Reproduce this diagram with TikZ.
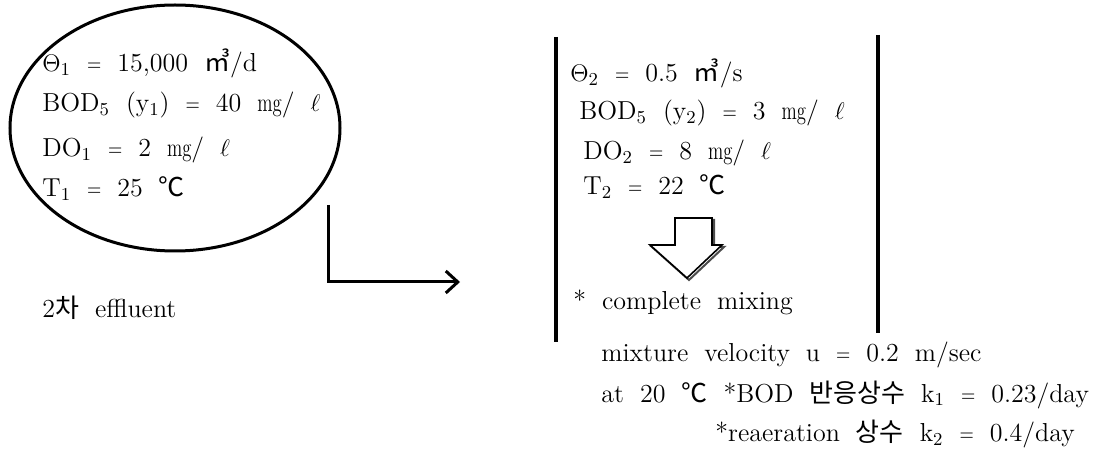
\documentclass[tikz,border=0pt]{standalone}
\usepackage{fontspec}
\usepackage{amsmath,amssymb}
\usepackage{graphicx}
\usepackage{tikz}
\usetikzlibrary{arrows.meta,positioning}
\newfontfamily\cjk{Noto Sans CJK KR}
\newcommand{\degc}{{\cjk ℃}}
\newcommand{\cubm}{{\cjk ㎥}}
\newcommand{\mgl}{\scalebox{0.72}[1]{mg}/ $\ell$}
\newcommand{\eq}{\scalebox{0.72}[0.9]{=}}
\newcommand{\txtfont}{\fontsize{13}{16}\selectfont\spaceskip=8pt plus 1pt minus 0.5pt\relax}

\begin{document}
\begin{tikzpicture}[x=0.5pt,y=-0.5pt,
        txt/.style={anchor=base west,inner sep=0pt,font=\txtfont},
        bar/.style={line width=1.7pt}]
        \useasboundingbox (0,0) rectangle (1093,454);
        % effluent
        \draw[line width=1.5pt] (175,128) ellipse [x radius=165, y radius=123];
        \node[txt] (q1)   at (42,72)  {$\Theta$\textsubscript{1} \eq{} 15,000 \cubm/d};
        \node[txt] (bod1) at (42,112) {BOD\textsubscript{5} (y\textsubscript{1}) \eq{} 40 \mgl};
        \node[txt] (do1)  at (42,157) {DO\textsubscript{1} \eq{} 2 \mgl};
        \node[txt] (t1)   at (42,197) {T\textsubscript{1} \eq{} 25 \degc};
        \node[txt] (eff)  at (42,318) {2{\cjk 차} effluent};
        % arrow to river
        \coordinate (a0) at (328,205);
        \coordinate (a1) at (328,282);
        \coordinate (a2) at (460,282);
        \draw[line width=1.5pt,-{Straight Barb[length=6pt,width=11pt,line width=1.5pt]}] (a0) -- (a1) -- (a2);
        % river
        \coordinate (l0) at (556,37);  \coordinate (l1) at (556,342);
        \coordinate (r0) at (878,35);  \coordinate (r1) at (878,333);
        \draw[bar] (l0) -- (l1);
        \draw[bar] (r0) -- (r1);
        \node[txt] (q2)   at (570,82)  {$\Theta$\textsubscript{2} \eq{} 0.5 \cubm/s};
        \node[txt] (bod2) at (579,120) {BOD\textsubscript{5} (y\textsubscript{2}) \eq{} 3 \mgl};
        \node[txt] (do2)  at (583,160) {DO\textsubscript{2} \eq{} 8 \mgl};
        \node[txt] (t2)   at (583,195) {T\textsubscript{2} \eq{} 22 \degc};
        % block arrow
        \draw[black!70,line width=1pt] (677,220) -- (714,220) -- (714,247) -- (724,247) -- (689,280) -- (652,247) -- (677,247) -- cycle;
        \draw[fill=white,line width=0.8pt] (675,218) -- (712,218) -- (712,245) -- (722,245) -- (687,278) -- (650,245) -- (675,245) -- cycle;
        \node[txt] (mix)  at (573,310) {* complete mixing};
        \node[txt] (vel)  at (601,362) {mixture velocity u \eq{} 0.2 m/sec};
        \node[txt] (k1)   at (601,402) {at 20 \degc{} *BOD {\cjk 반응상수} k\textsubscript{1} \eq{} 0.23/day};
        \node[txt] (k2)   at (715,442) {*reaeration {\cjk 상수} k\textsubscript{2} \eq{} 0.4/day};
    \end{tikzpicture}
\end{document}
